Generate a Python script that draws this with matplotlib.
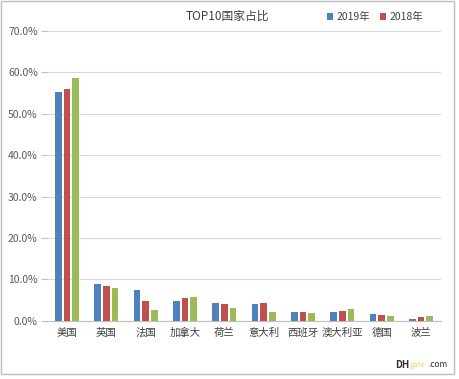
import matplotlib
matplotlib.use("Agg")
import matplotlib.pyplot as plt
import numpy as np
from matplotlib.patches import Rectangle

plt.rcParams['font.family'] = ['Noto Sans CJK SC', 'DejaVu Sans']

categories = ["美国", "英国", "法国", "加拿大", "荷兰", "意大利", "西班牙", "澳大利亚", "德国", "波兰"]
s2019 = [55.2, 8.75, 7.4, 4.7, 4.2, 4.0, 2.2, 2.0, 1.5, 0.5]
s2018 = [56.1, 8.3, 4.7, 5.4, 4.0, 4.2, 2.0, 2.3, 1.3, 0.8]
s2017 = [58.6, 8.0, 2.5, 5.8, 3.0, 2.0, 1.8, 2.7, 1.0, 1.0]
series_names = ["2019年", "2018年", "2017年"]
colors = ["#4F81BD", "#C0504D", "#9BBB59"]
yticks = [0, 10, 20, 30, 40, 50, 60, 70]

fig = plt.figure(figsize=(4.6, 3.79), dpi=100)
ax = fig.add_axes([0.103, 0.154, 0.855, 0.764])

x = np.arange(len(categories))
w = 0.165
pitch = 0.22
for i, (vals, c, n) in enumerate(zip([s2019, s2018, s2017], colors, series_names)):
    ax.bar(x + (i - 1) * pitch, vals, width=w, color=c, label=n, zorder=3)

ax.set_xlim(-0.5, len(categories) - 0.5)
ax.set_ylim(0, 70)
ax.set_yticks(yticks)
ax.set_yticklabels([f"{v:.1f}%" for v in yticks])
ax.set_xticks(x)
ax.set_xticklabels(categories)
ax.grid(axis='y', color='#D9D9D9', linewidth=0.8, zorder=0)
for s in ['top', 'right', 'left']:
    ax.spines[s].set_visible(False)
ax.spines['bottom'].set_color('#BFBFBF')
ax.tick_params(axis='y', length=4, color='#BFBFBF', labelsize=7.5, labelcolor='#595959', pad=3)
ax.tick_params(axis='x', length=0, labelsize=7.5, labelcolor='#404040', pad=5)

fig.text(0.495, 0.958, "TOP10国家占比", ha='center', va='center', fontsize=8.5, color='#404040')

handles, labels = ax.get_legend_handles_labels()
leg = fig.legend(handles[:2], labels[:2], loc='center', bbox_to_anchor=(0.815, 0.955),
                 ncol=2, frameon=False, fontsize=7.5, handlelength=0.6, handleheight=0.6,
                 columnspacing=1.0, handletextpad=0.3, labelcolor='#404040')

fig.text(0.889, 0.037, "DH", ha='right', va='center', fontsize=7, fontweight='bold', color='#303030')
fig.text(0.890, 0.037, "gate", ha='left', va='center', fontsize=5.5, color='#F5D442')
fig.text(0.932, 0.037, ".com", ha='left', va='center', fontsize=6, color='#303030')

fig.patches.append(Rectangle((0.002, 0.012), 0.985, 0.985, transform=fig.transFigure,
                             fill=False, edgecolor='#BFBFBF', linewidth=1.0))

fig.savefig("out.png", dpi=100)
